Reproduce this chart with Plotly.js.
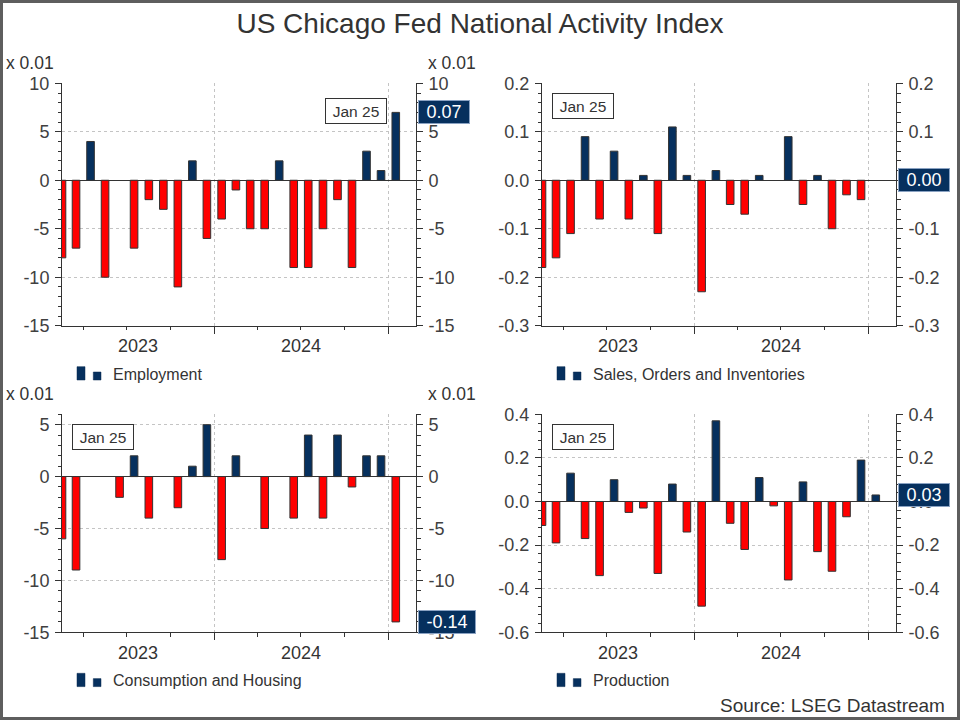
<!DOCTYPE html>
<html>
<head>
<meta charset="utf-8">
<script src="https://cdn.plot.ly/plotly-3.0.1.min.js"></script>
<style>
  body { margin: 0; background: #fff; }
  #chart { width: 960px; height: 720px; }
</style>
</head>
<body>
<div id="chart"></div>
<script>
// monthly contributions to the CFNAI, Feb 2023 .. Jan 2025
var months = ['2023-02', '2023-03', '2023-04', '2023-05', '2023-06', '2023-07',
  '2023-08', '2023-09', '2023-10', '2023-11', '2023-12', '2024-01',
  '2024-02', '2024-03', '2024-04', '2024-05', '2024-06', '2024-07',
  '2024-08', '2024-09', '2024-10', '2024-11', '2024-12', '2025-01'];

var employment = [-0.08, -0.07, 0.04, -0.10, 0.00, -0.07, -0.02, -0.03, -0.11, 0.02, -0.06, -0.04,
  -0.01, -0.05, -0.05, 0.02, -0.09, -0.09, -0.05, -0.02, -0.09, 0.03, 0.01, 0.07];
var salesOrders = [-0.18, -0.16, -0.11, 0.09, -0.08, 0.06, -0.08, 0.01, -0.11, 0.11, 0.01, -0.23,
  0.02, -0.05, -0.07, 0.01, 0.00, 0.09, -0.05, 0.01, -0.10, -0.03, -0.04, 0.00];
var consumption = [-0.06, -0.09, 0.00, 0.00, -0.02, 0.02, -0.04, 0.00, -0.03, 0.01, 0.05, -0.08,
  0.02, 0.00, -0.05, 0.00, -0.04, 0.04, -0.04, 0.04, -0.01, 0.02, 0.02, -0.14];
var production = [-0.11, -0.19, 0.13, -0.17, -0.34, 0.10, -0.05, -0.03, -0.33, 0.08, -0.14, -0.48,
  0.37, -0.10, -0.22, 0.11, -0.02, -0.36, 0.09, -0.23, -0.32, -0.07, 0.19, 0.03];

var seriesNames = ['Employment', 'Sales, Orders and Inventories', 'Consumption and Housing', 'Production'];
var yearLabels = ['2023', '2024'];
var yearStarts = ['2024-01-01', '2025-01-01'];
var quarterTicks = ['2023-04-01', '2023-07-01', '2023-10-01', '2024-04-01', '2024-07-01', '2024-10-01'];
var lastLabel = 'Jan 25';

var NAVY = '#06305e';
var RED = '#ff0000';
var INK = '#333333';
var GRID = '#c4c4c4';
var FONT = 'Liberation Sans, Arial, sans-serif';
var W = 960, H = 720;
var xRange = ['2023-02-15', '2025-02-28'];

function px(x) { return x / W; }
function py(y) { return 1 - y / H; }

// geometry of each panel in pixels
var panels = [
  { data: employment, scale: 100, range: [-15, 10], step: 5, minor: 1, dec: 0,
    left: 62, right: 416, top: 83.3, bottom: 325.7, box: [356, 110.5] },
  { data: salesOrders, scale: 1, range: [-0.3, 0.2], step: 0.1, minor: 0.02, dec: 1,
    left: 542, right: 896, top: 83.3, bottom: 325.7, box: [583, 106] },
  { data: consumption, scale: 100, range: [-15, 6], step: 5, minor: 1, dec: 0,
    left: 62, right: 416, top: 414.3, bottom: 632.3, box: [103, 437] },
  { data: production, scale: 1, range: [-0.6, 0.4], step: 0.2, minor: 0.04, dec: 1,
    left: 542, right: 896, top: 414.3, bottom: 632.3, box: [583, 437] }
];

var traces = [];
var layout = {
  width: W, height: H,
  margin: { l: 0, r: 0, t: 0, b: 0 },
  paper_bgcolor: '#fff', plot_bgcolor: '#fff',
  font: { family: FONT, color: INK, size: 16 },
  showlegend: false,
  hovermode: false,
  title: {
    text: 'US Chicago Fed National Activity Index',
    x: 0.5, xanchor: 'center', y: py(23), yref: 'container', yanchor: 'middle',
    font: { size: 28, color: INK, family: FONT }
  },
  annotations: [],
  shapes: [{
    type: 'rect', xref: 'paper', yref: 'paper',
    x0: px(1.5), x1: px(W - 1.5), y0: py(H - 1.5), y1: py(1.5),
    line: { color: '#5e5e5e', width: 3 }
  }]
};

function tickList(p) {
  var vals = [], txt = [];
  var a = Math.ceil(p.range[0] / p.step - 1e-9), b = Math.floor(p.range[1] / p.step + 1e-9);
  for (var k = a; k <= b; k++) {
    var v = k * p.step;
    vals.push(v);
    txt.push(v.toFixed(p.dec));
  }
  return { vals: vals, txt: txt };
}

function midDate(a, b) {
  return new Date((new Date(a).getTime() + new Date(b).getTime()) / 2).toISOString().slice(0, 10);
}

panels.forEach(function (p, i) {
  var n = i + 1;
  var xa = 'x' + n, ya = 'y' + n, yr = 'y' + (n + 4);
  var vals = p.data.map(function (v) { return v * p.scale; });
  traces.push({
    type: 'bar', x: months, y: vals, xaxis: xa, yaxis: ya,
    xperiod: 'M1', xperiodalignment: 'middle',
    width: 16 * 86400000,
    marker: {
      color: vals.map(function (v) { return v >= 0 ? NAVY : RED; }),
      line: { color: INK, width: vals.map(function (v) { return v === 0 ? 0 : 1; }) }
    }
  });
  // invisible copy so the right-hand axis gets drawn
  traces.push({
    type: 'scatter', mode: 'markers', x: months, y: vals, xaxis: xa, yaxis: yr,
    xperiod: 'M1', xperiodalignment: 'middle',
    marker: { opacity: 0, size: 1 }, hoverinfo: 'skip'
  });

  var ticks = tickList(p);
  var xdom = [px(p.left), px(p.right)];
  var ydom = [py(p.bottom), py(p.top)];

  layout['xaxis' + n] = {
    type: 'date', domain: xdom, anchor: ya, range: xRange,
    tickmode: 'array', tickvals: yearStarts, ticktext: yearStarts.map(function () { return ''; }),
    ticks: 'outside', ticklen: 7, tickcolor: INK, tickwidth: 1,
    showgrid: true, gridcolor: GRID, griddash: 'dot', gridwidth: 1,
    showline: true, linecolor: INK, linewidth: 1, zeroline: false,
    minor: { tickmode: 'array', tickvals: quarterTicks, ticks: 'outside', ticklen: 3.5,
      tickcolor: INK, tickwidth: 1, showgrid: false }
  };
  var yBase = {
    domain: ydom, anchor: xa, range: p.range,
    tickmode: 'array', tickvals: ticks.vals, ticktext: ticks.txt,
    ticks: 'outside', ticklen: 6, tickcolor: INK, tickwidth: 1,
    ticklabelstandoff: 2,
    tickfont: { size: 18, color: '#404040', family: FONT },
    showline: true, linecolor: INK, linewidth: 1,
    minor: { tickmode: 'linear', tick0: 0, dtick: p.minor, ticks: 'outside', ticklen: 3.5,
      tickcolor: INK, tickwidth: 1, showgrid: false }
  };
  layout['yaxis' + n] = Object.assign({}, yBase, {
    side: 'left', showgrid: true, gridcolor: GRID, griddash: 'dot', gridwidth: 1,
    zeroline: true, zerolinecolor: INK, zerolinewidth: 1
  });
  layout['yaxis' + (n + 4)] = Object.assign({}, yBase, {
    side: 'right', overlaying: ya, showgrid: false, zeroline: false
  });

  // year labels centred in the visible part of each year
  yearLabels.forEach(function (yl) {
    var s = yl + '-01-01', e = (+yl + 1) + '-01-01';
    var a = s < xRange[0] ? xRange[0] : s;
    var b = e > xRange[1] ? xRange[1] : e;
    layout.annotations.push({
      text: yl, xref: xa, x: midDate(a, b), yref: 'paper', y: py(p.bottom + 20.5),
      xanchor: 'center', yanchor: 'middle', showarrow: false,
      font: { size: 18, color: INK }
    });
  });

  // unit labels
  if (p.scale === 100) {
    layout.annotations.push({
      text: 'x 0.01', xref: 'paper', yref: 'paper', x: px(p.left - 58), y: py(p.top - 20),
      xanchor: 'left', yanchor: 'middle', showarrow: false, font: { size: 17.5, color: INK }
    }, {
      text: 'x 0.01', xref: 'paper', yref: 'paper', x: px(p.right + 62), y: py(p.top - 20),
      xanchor: 'right', yanchor: 'middle', showarrow: false, font: { size: 17.5, color: INK }
    });
  }

  // latest value tag on the right axis
  var last = p.data[p.data.length - 1];
  var tag = last.toFixed(2);
  var tw = 0;
  for (var c = 0; c < tag.length; c++) tw += tag[c] === '.' ? 5 : (tag[c] === '-' ? 6 : 10);
  layout.annotations.push({
    text: tag, xref: xa + ' domain', x: 1, xshift: 2, yref: ya, y: vals[vals.length - 1],
    xanchor: 'left', yanchor: 'middle', showarrow: false,
    bgcolor: NAVY, bordercolor: '#8aa2c2', borderwidth: 1, borderpad: 0,
    width: tw + 15, height: 22,
    font: { size: 18, color: '#ffffff' }
  });

  // date box
  layout.annotations.push({
    text: lastLabel, xref: 'paper', yref: 'paper', x: px(p.box[0]), y: py(p.box[1]),
    xanchor: 'center', yanchor: 'middle', showarrow: false,
    bgcolor: '#ffffff', bordercolor: INK, borderwidth: 1, borderpad: 0,
    width: 60, height: 24,
    font: { size: 15.5, color: INK }
  });

  // legend: tall bar, small square, name
  var lb = p.bottom;
  layout.shapes.push({
    type: 'rect', xref: 'paper', yref: 'paper',
    x0: px(p.left + 15), x1: px(p.left + 23), y0: py(lb + 54.3), y1: py(lb + 41),
    fillcolor: NAVY, line: { color: '#0a2a50', width: 0.5 }
  }, {
    type: 'rect', xref: 'paper', yref: 'paper',
    x0: px(p.left + 31.3), x1: px(p.left + 39), y0: py(lb + 54.3), y1: py(lb + 46.3),
    fillcolor: NAVY, line: { color: '#0a2a50', width: 0.5 }
  });
  layout.annotations.push({
    text: seriesNames[i], xref: 'paper', yref: 'paper', x: px(p.left + 48.5), y: py(lb + 48.5),
    xanchor: 'left', yanchor: 'middle', showarrow: false, font: { size: 16, color: INK }
  });
});

layout.annotations.push({
  text: 'Source: LSEG Datastream', xref: 'paper', yref: 'paper', x: px(947), y: py(705),
  xanchor: 'right', yanchor: 'middle', showarrow: false, font: { size: 19, color: INK }
});

Plotly.newPlot('chart', traces, layout, { staticPlot: true, displayModeBar: false });
</script>
</body>
</html>
